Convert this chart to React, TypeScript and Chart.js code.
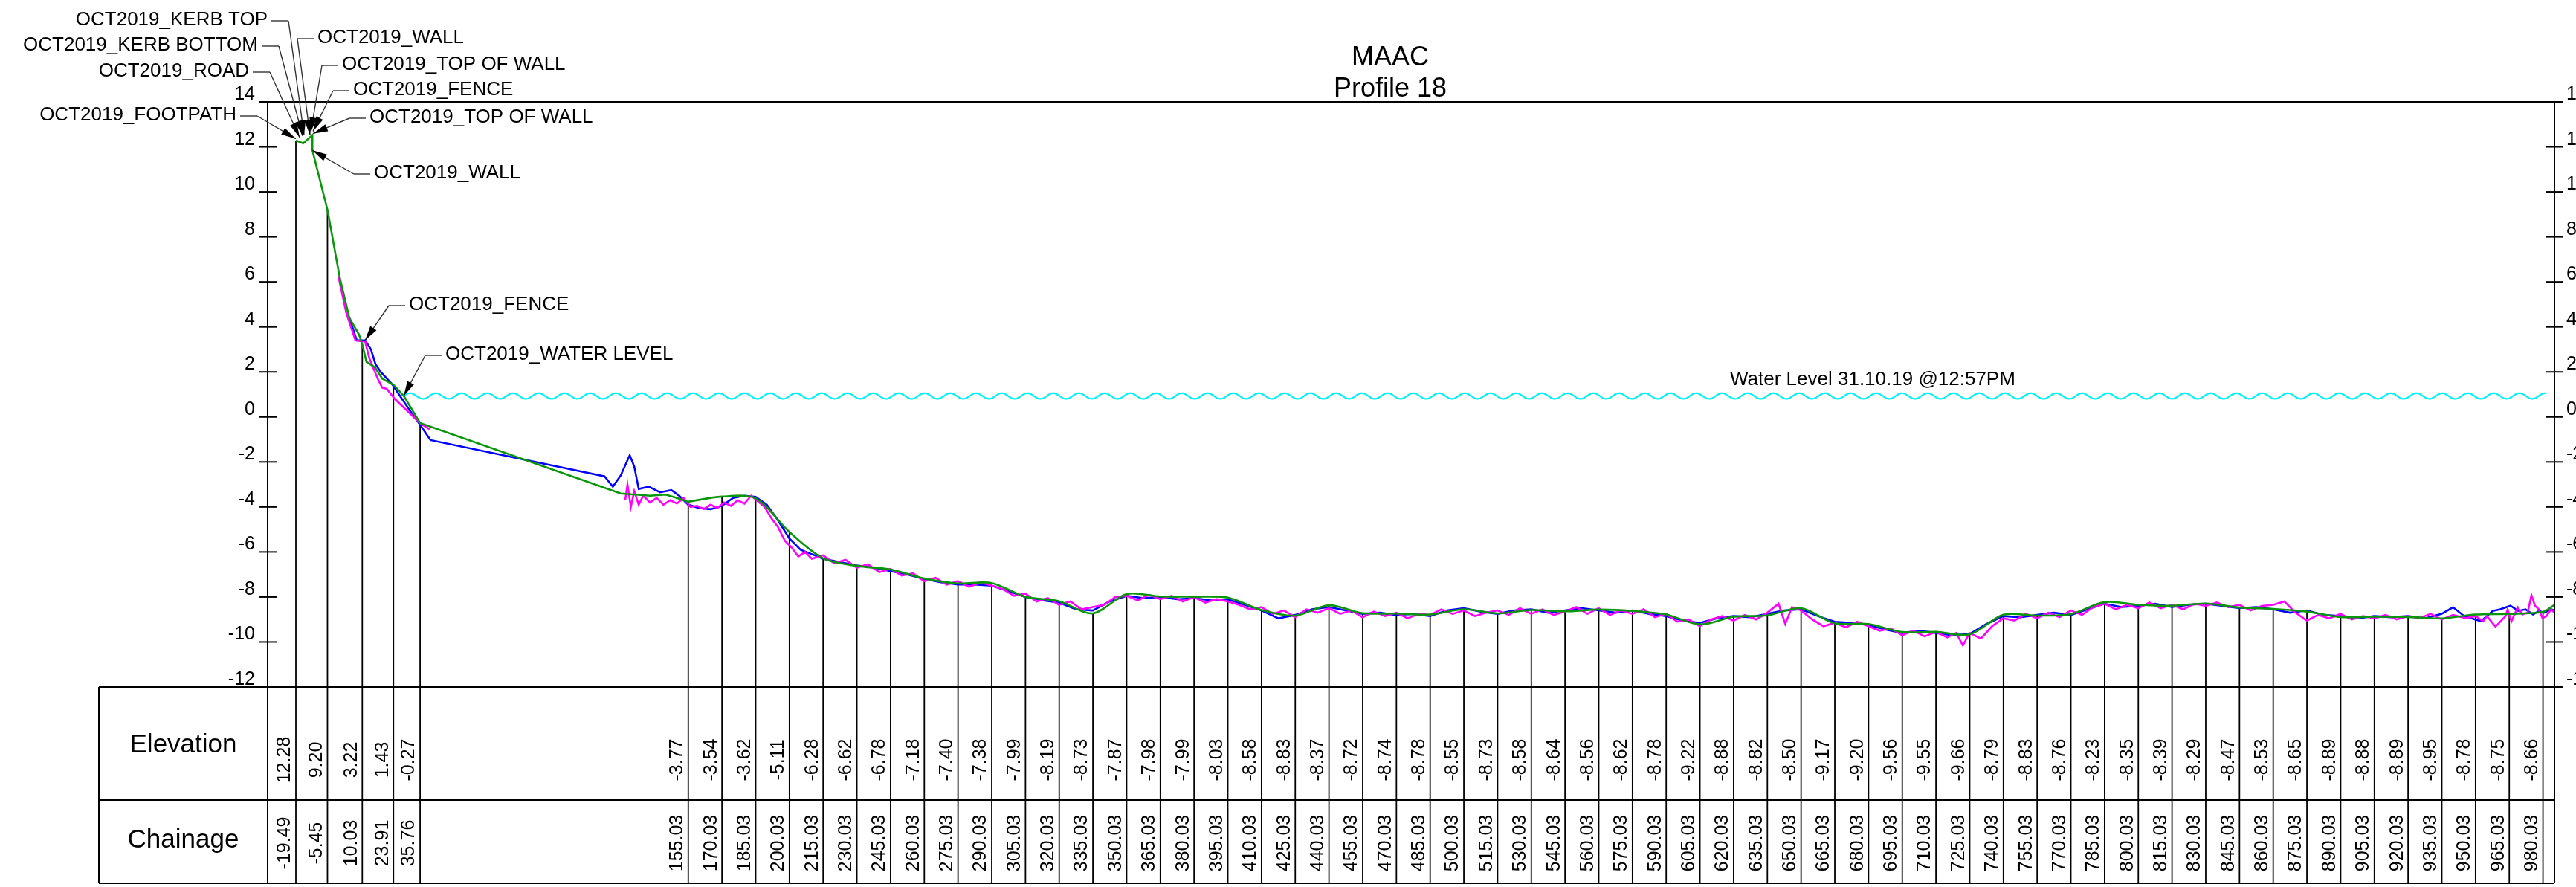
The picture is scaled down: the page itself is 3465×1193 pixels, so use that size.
import React, { useEffect, useRef } from "react";
import { Chart, registerables } from "chart.js";

Chart.register(...registerables);

// ---------------- DATA ----------------
const titleLines = ["MAAC", "Profile 18"];

const yTicks = [14, 12, 10, 8, 6, 4, 2, 0, -2, -4, -6, -8, -10, -12];

const tableChainage = [
  -19.49, -5.45, 10.03, 23.91, 35.76,
  155.03, 170.03, 185.03, 200.03, 215.03, 230.03, 245.03, 260.03, 275.03, 290.03,
  305.03, 320.03, 335.03, 350.03, 365.03, 380.03, 395.03, 410.03, 425.03, 440.03,
  455.03, 470.03, 485.03, 500.03, 515.03, 530.03, 545.03, 560.03, 575.03, 590.03,
  605.03, 620.03, 635.03, 650.03, 665.03, 680.03, 695.03, 710.03, 725.03, 740.03,
  755.03, 770.03, 785.03, 800.03, 815.03, 830.03, 845.03, 860.03, 875.03, 890.03,
  905.03, 920.03, 935.03, 950.03, 965.03, 980.03,
];
const tableElevation = [
  12.28, 9.2, 3.22, 1.43, -0.27,
  -3.77, -3.54, -3.62, -5.11, -6.28, -6.62, -6.78, -7.18, -7.4, -7.38,
  -7.99, -8.19, -8.73, -7.87, -7.98, -7.99, -8.03, -8.58, -8.83, -8.37,
  -8.72, -8.74, -8.78, -8.55, -8.73, -8.58, -8.64, -8.56, -8.62, -8.78,
  -9.22, -8.88, -8.82, -8.5, -9.17, -9.2, -9.56, -9.55, -9.66, -8.79,
  -8.83, -8.76, -8.23, -8.35, -8.39, -8.29, -8.47, -8.53, -8.65, -8.89,
  -8.88, -8.89, -8.95, -8.78, -8.75, -8.66,
];

// green (OCT2019 section) near-shore part
const greenNearX = [-19.49, -16.2, -12.2, -12.15, -5.45, 0, 4.3, 8.6, 10.03, 11.9, 15.7, 18.9, 23.91, 28.5, 35.76, 125, 138, 145, 150, 155.03];
const greenNearY = [12.28, 12.16, 12.52, 11.85, 9.2, 6.2, 4.4, 3.66, 3.22, 2.45, 2.2, 1.7, 1.43, 0.93, -0.27, -3.4, -3.5, -3.45, -3.6, -3.77];
const greenTailX = [985.13];
const greenTailY = [-8.35];

// blue survey
const blueX = [
  4.3, 7.6, 11.3, 13.9, 15.9, 18.2, 23.3, 31.4, 34.7, 40.4, 117.8, 121.5, 125, 129, 131, 133, 137.5, 142.5, 147.5, 151,
  155, 160, 165, 170, 175, 180, 185, 190, 195, 200, 205, 210, 215, 222.5, 230, 237.5, 245, 252.5, 260, 267.5,
  275, 282.5, 290, 297.5, 305, 312.5, 320, 327.5, 335, 342.5, 350, 357.5, 365, 372.5, 380, 387.5, 395, 402.5, 410, 417.5,
  425, 432.5, 440, 447.5, 455, 462.5, 470, 477.5, 485, 492.5, 500, 507.5, 515, 522.5, 530, 537.5, 545, 552.5, 560, 567.5,
  575, 582.5, 590, 597.5, 605, 612.5, 620, 627.5, 635, 642.5, 650, 657.5, 665, 672.5, 680, 687.5, 695, 702.5, 710, 717.5,
  725, 732.5, 740, 747.5, 755, 762.5, 770, 777.5, 785, 792.5, 800, 807.5, 815, 822.5, 830, 837.5, 845, 852.5, 860, 867.5,
  875, 882.5, 890, 897.5, 905, 912.5, 920, 927.5, 935, 940, 945, 952.4, 957.7, 961, 965.6, 969, 972.3, 975.6, 978.3, 980.5,
  983.8, 985.1,
];
const blueY = [
  4.4, 3.4, 3.4, 3.0, 2.35, 2.0, 1.45, 0.26, -0.2, -1.03, -2.64, -3.1, -2.6, -1.7, -2.2, -3.2, -3.1, -3.35, -3.25, -3.5,
  -3.9, -4.05, -4.1, -3.95, -3.6, -3.5, -3.55, -3.9, -4.6, -5.4, -5.9, -6.1, -6.3, -6.45, -6.6, -6.7, -6.85, -7.0, -7.2, -7.35,
  -7.45, -7.45, -7.5, -7.75, -8.0, -8.15, -8.25, -8.55, -8.6, -8.2, -7.95, -8.05, -8.0, -8.1, -8.05, -8.15, -8.1, -8.35, -8.6, -8.95,
  -8.8, -8.55, -8.45, -8.6, -8.75, -8.7, -8.8, -8.75, -8.85, -8.6, -8.5, -8.65, -8.75, -8.6, -8.55, -8.7, -8.6, -8.5, -8.6, -8.7,
  -8.6, -8.75, -8.85, -9.05, -9.15, -8.95, -8.85, -8.9, -8.75, -8.6, -8.55, -8.85, -9.1, -9.15, -9.25, -9.45, -9.6, -9.5, -9.6, -9.7,
  -9.65, -9.2, -8.85, -8.9, -8.8, -8.7, -8.8, -8.55, -8.3, -8.45, -8.4, -8.3, -8.45, -8.35, -8.3, -8.4, -8.5, -8.45, -8.55, -8.7,
  -8.6, -8.8, -8.85, -8.95, -8.85, -8.9, -8.85, -8.95, -8.75, -8.46, -8.85, -9.08, -8.62, -8.55, -8.39, -8.62, -8.55, -8.78, -8.62, -8.7,
  -8.55, -8.6,
];

// magenta survey
const magNearX = [-0.6, 3, 7, 11.3, 13.2, 16.9, 18.9, 20.9, 24.5, 30.8, 36.1, 40];
const magNearY = [6.25, 4.6, 3.4, 3.35, 2.6, 1.7, 1.3, 1.25, 0.8, 0.2, -0.3, -0.55];
const magFarX = [
  127, 128, 129.5, 131, 133, 135, 138, 141, 144, 147, 150, 153, 156, 159, 162, 165, 168, 171, 174, 177,
  180, 183, 186, 189, 192, 195, 198, 201, 204, 207, 210, 215, 220, 225, 230, 235, 240, 245, 250, 255,
  260, 265, 270, 275, 280, 285, 290, 295, 300, 305, 310, 315, 320, 325, 330, 335, 340, 345, 350, 355,
  360, 365, 370, 375, 380, 385, 390, 395, 400, 405, 410, 415, 420, 425, 430, 435, 440, 445, 450, 455,
  460, 465, 470, 475, 480, 485, 490, 495, 500, 505, 510, 515, 520, 525, 530, 535, 540, 545, 550, 555,
  560, 565, 570, 575, 580, 585, 590, 595, 600, 605, 610, 615, 620, 625, 630, 635, 640, 643, 646, 650,
  655, 660, 665, 670, 675, 680, 685, 690, 695, 700, 705, 710, 715, 719, 722, 725, 730, 735, 740, 745,
  750, 755, 760, 765, 770, 775, 780, 785, 790, 795, 800, 805, 810, 815, 820, 825, 830, 835, 840, 845,
  850, 855, 860, 865, 870, 875, 880, 885, 890, 895, 900, 905, 910, 915, 920, 925, 930, 935, 940, 945.7,
  950.1, 953.4, 955.1, 958.9, 963.4, 964.3, 966, 968.8, 970.9, 973.2, 974.9, 976.5, 978.2, 979.8, 981.5, 983.7, 985.1,
];
const magFarY = [
  -3.7, -3.0, -4.0, -3.3, -3.9, -3.5, -3.8, -3.6, -3.9, -3.7, -3.85, -3.6, -4.0, -3.95, -4.1, -3.9, -4.05, -3.8, -3.95, -3.7,
  -3.85, -3.5, -3.75, -4.0, -4.5, -4.9, -5.5, -5.8, -6.2, -6.0, -6.3, -6.15, -6.5, -6.35, -6.7, -6.55, -6.9, -6.75, -7.05, -6.95,
  -7.3, -7.15, -7.45, -7.3, -7.55, -7.35, -7.5, -7.65, -7.95, -7.85, -8.2, -8.05, -8.35, -8.2, -8.55, -8.45, -8.35, -8.0, -7.95, -8.15,
  -7.9, -8.1, -7.95, -8.2, -8.0, -8.25, -8.1, -8.2, -8.35, -8.55, -8.45, -8.75, -8.6, -8.9, -8.55, -8.7, -8.5, -8.75, -8.6, -8.9,
  -8.65, -8.85, -8.7, -8.95, -8.75, -8.8, -8.55, -8.75, -8.6, -8.85, -8.7, -8.6, -8.8, -8.5, -8.75, -8.55, -8.8, -8.65, -8.45, -8.75,
  -8.5, -8.8, -8.6, -8.75, -8.55, -8.9, -8.75, -9.1, -9.0, -9.3, -9.0, -8.85, -9.05, -8.8, -9.0, -8.7, -8.3, -9.2, -8.45, -8.6,
  -9.0, -9.3, -9.15, -9.35, -9.1, -9.3, -9.5, -9.4, -9.7, -9.5, -9.75, -9.55, -9.8, -9.6, -10.15, -9.6, -9.85, -9.3, -8.95, -9.05,
  -8.75, -8.95, -8.7, -8.9, -8.6, -8.8, -8.45, -8.3, -8.55, -8.35, -8.5, -8.25, -8.5, -8.35, -8.55, -8.3, -8.4, -8.25, -8.45, -8.35,
  -8.6, -8.4, -8.35, -8.2, -8.7, -9.05, -8.8, -8.95, -8.75, -9.0, -8.85, -8.95, -8.8, -9.0, -8.85, -8.95, -8.75, -9.0, -8.8, -8.94,
  -8.85, -9.08, -8.85, -9.32, -8.85, -8.55, -9.08, -8.46, -8.78, -8.7, -7.92, -8.39, -8.55, -8.94, -8.85, -8.55, -8.7,
];

// water level
const waterLevel = 0.93;
const waterStartChainage = 28.46;
const waterEndChainage = 981.8;
const waterLabel = "Water Level 31.10.19 @12:57PM";

// callouts
const calloutText = [
  "OCT2019_KERB TOP", "OCT2019_KERB BOTTOM", "OCT2019_ROAD", "OCT2019_FOOTPATH",
  "OCT2019_WALL", "OCT2019_TOP OF WALL", "OCT2019_FENCE", "OCT2019_TOP OF WALL",
  "OCT2019_WALL", "OCT2019_FENCE", "OCT2019_WATER LEVEL",
];
const calloutChainage = [-15.85, -16.51, -17.84, -19.49, -13.2, -12.88, -11.88, -11.88, -12.2, 11.26, 28.46];
const calloutElevation = [12.52, 12.49, 12.42, 12.36, 12.52, 12.65, 12.69, 12.59, 11.85, 3.4, 0.93];

// ---------------- LAYOUT / STYLE ----------------
const W = 3465;
const H = 1193;
const FONT = '"Liberation Sans", Arial, Helvetica, sans-serif';
const X_MIN = -32.06;
const X_MAX = 985.13;
const PAD = { left: 360, right: W - 3436, top: 137, bottom: H - 924 };
const TABLE_LEFT = 133;
const ROW1_H = 152;
const ROW2_H = 112;
const calloutLayout = [
  { side: "left", x: 360, y: 27 },
  { side: "left", x: 347, y: 61 },
  { side: "left", x: 335, y: 96 },
  { side: "left", x: 318, y: 155 },
  { side: "right", x: 427, y: 51 },
  { side: "right", x: 460, y: 87 },
  { side: "right", x: 475, y: 121 },
  { side: "right", x: 497, y: 158 },
  { side: "right", x: 503, y: 233 },
  { side: "right", x: 550, y: 410 },
  { side: "right", x: 599, y: 477 },
];
const TITLE_X = 1870;
const TITLE_Y = [78, 120];
const WATER_LABEL_X = 2327;

const GREEN = "#0a960a";
const BLUE = "#0000ff";
const MAGENTA = "#ff00ff";
const CYAN = "#00f0f8";

function pts(xs: number[], ys: number[]) {
  return xs.map((x, i) => ({ x, y: ys[i] }));
}

function seg(ctx: CanvasRenderingContext2D, x0: number, y0: number, x1: number, y1: number) {
  ctx.beginPath();
  ctx.moveTo(x0, y0);
  ctx.lineTo(x1, y1);
  ctx.stroke();
}

function arrow(ctx: CanvasRenderingContext2D, fx: number, fy: number, tx: number, ty: number) {
  const dx = tx - fx;
  const dy = ty - fy;
  const len = Math.hypot(dx, dy) || 1;
  const ux = dx / len;
  const uy = dy / len;
  const L = 20;
  const hw = 5;
  ctx.beginPath();
  ctx.moveTo(tx, ty);
  ctx.lineTo(tx - ux * L - uy * hw, ty - uy * L + ux * hw);
  ctx.lineTo(tx - ux * L + uy * hw, ty - uy * L - ux * hw);
  ctx.closePath();
  ctx.fill();
}

const decorPlugin = {
  id: "profileDecor",
  beforeDatasetsDraw(chart: any) {
    const { ctx, chartArea: ca, scales } = chart;
    const xs = scales.x;
    const ys = scales.y;
    const tableTop = ys.getPixelForValue(-12);
    const rowDiv = tableTop + ROW1_H;
    const tableBottom = rowDiv + ROW2_H;
    ctx.save();
    ctx.strokeStyle = "#000";
    ctx.fillStyle = "#000";

    // chainage verticals
    ctx.lineWidth = 1.8;
    tableChainage.forEach((c, i) => {
      const px = xs.getPixelForValue(c);
      seg(ctx, px, ys.getPixelForValue(tableElevation[i]), px, tableBottom);
    });

    // axes & frame
    ctx.lineWidth = 2;
    seg(ctx, ca.left, ca.top, ca.left, tableBottom);
    seg(ctx, ca.right, ca.top, ca.right, tableBottom);
    seg(ctx, ca.left - 12, ca.top, ca.right + 11, ca.top);
    seg(ctx, TABLE_LEFT, tableTop, ca.right + 11, tableTop);
    seg(ctx, TABLE_LEFT, rowDiv, ca.right, rowDiv);
    seg(ctx, TABLE_LEFT, tableBottom, ca.right, tableBottom);
    seg(ctx, TABLE_LEFT, tableTop, TABLE_LEFT, tableBottom);

    // ticks
    yTicks.forEach((v) => {
      if (v === 14 || v === -12) return;
      const py = ys.getPixelForValue(v);
      seg(ctx, ca.left - 12, py, ca.left + 12, py);
      seg(ctx, ca.right - 12, py, ca.right + 11, py);
    });

    // tick labels
    ctx.font = `25px ${FONT}`;
    ctx.textBaseline = "alphabetic";
    yTicks.forEach((v) => {
      const py = ys.getPixelForValue(v) - 3;
      ctx.textAlign = "right";
      ctx.fillText(String(v), ca.left - 17, py);
      ctx.textAlign = "left";
      ctx.fillText(String(v), ca.right + 16, py);
    });

    // table headers
    ctx.font = `35px ${FONT}`;
    ctx.textAlign = "center";
    ctx.textBaseline = "middle";
    const hx = (TABLE_LEFT + ca.left) / 2;
    ctx.fillText("Elevation", hx, tableTop + 78);
    ctx.fillText("Chainage", hx, rowDiv + 54);

    // rotated values
    ctx.font = `25px ${FONT}`;
    tableChainage.forEach((c, i) => {
      const px = xs.getPixelForValue(c) - 14.5;
      ctx.save();
      ctx.translate(px, tableTop + 98);
      ctx.rotate(-Math.PI / 2);
      ctx.fillText(tableElevation[i].toFixed(2), 0, 0);
      ctx.restore();
      ctx.save();
      ctx.translate(px, rowDiv + 58);
      ctx.rotate(-Math.PI / 2);
      ctx.fillText(c.toFixed(2), 0, 0);
      ctx.restore();
    });
    ctx.restore();
  },
  afterDatasetsDraw(chart: any) {
    const { ctx, scales } = chart;
    const xs = scales.x;
    const ys = scales.y;
    ctx.save();

    // water wave
    const wy = ys.getPixelForValue(waterLevel);
    const wx0 = xs.getPixelForValue(waterStartChainage);
    const wx1 = xs.getPixelForValue(waterEndChainage);
    ctx.strokeStyle = CYAN;
    ctx.lineWidth = 2.2;
    ctx.beginPath();
    ctx.moveTo(wx0, wy);
    for (let px = wx0; px <= wx1; px += 1) {
      const t = (px - wx0) / 34.6;
      ctx.lineTo(px, wy - 3.8 * Math.sin(2 * Math.PI * t));
    }
    ctx.stroke();

    // water label
    ctx.fillStyle = "#000";
    ctx.font = `26px ${FONT}`;
    ctx.textAlign = "left";
    ctx.textBaseline = "middle";
    ctx.fillText(waterLabel, WATER_LABEL_X, wy - 22);

    // callouts
    calloutText.forEach((txt, i) => {
      const lay = calloutLayout[i];
      const tipX = xs.getPixelForValue(calloutChainage[i]);
      const tipY = ys.getPixelForValue(calloutElevation[i]);
      ctx.font = `26px ${FONT}`;
      ctx.fillStyle = "#000";
      ctx.textBaseline = "middle";
      let elbowX: number;
      ctx.strokeStyle = "#333";
      ctx.lineWidth = 1.4;
      if (lay.side === "left") {
        ctx.textAlign = "right";
        ctx.fillText(txt, lay.x, lay.y);
        elbowX = lay.x + 28;
        seg(ctx, lay.x + 5, lay.y + 1, elbowX, lay.y + 1);
      } else {
        ctx.textAlign = "left";
        ctx.fillText(txt, lay.x, lay.y);
        elbowX = lay.x - 27;
        seg(ctx, elbowX, lay.y + 1, lay.x - 5, lay.y + 1);
      }
      seg(ctx, elbowX, lay.y + 1, tipX, tipY);
      ctx.fillStyle = "#000";
      arrow(ctx, elbowX, lay.y + 1, tipX, tipY);
    });

    // title
    ctx.fillStyle = "#000";
    ctx.font = `36px ${FONT}`;
    ctx.textAlign = "center";
    ctx.textBaseline = "middle";
    titleLines.forEach((t, i) => ctx.fillText(t, TITLE_X, TITLE_Y[i]));
    ctx.restore();
  },
};

export default function App() {
  const ref = useRef<HTMLCanvasElement | null>(null);
  useEffect(() => {
    if (!ref.current) return;
    const greenFarX = tableChainage.slice(5).concat(greenTailX);
    const greenFarY = tableElevation.slice(5).concat(greenTailY);
    const chart = new Chart(ref.current, {
      type: "line",
      data: {
        datasets: [
          { label: "green-near", data: pts(greenNearX, greenNearY), borderColor: GREEN, borderWidth: 2.6, pointRadius: 0, tension: 0 },
          { label: "green-far", data: pts(greenFarX, greenFarY), borderColor: GREEN, borderWidth: 2.6, pointRadius: 0, tension: 0.3 },
          { label: "magenta-near", data: pts(magNearX, magNearY), borderColor: MAGENTA, borderWidth: 2.6, pointRadius: 0, tension: 0 },
          { label: "magenta-far", data: pts(magFarX, magFarY), borderColor: MAGENTA, borderWidth: 2.6, pointRadius: 0, tension: 0 },
          { label: "blue", data: pts(blueX, blueY), borderColor: BLUE, borderWidth: 2.6, pointRadius: 0, tension: 0 },
        ],
      },
      options: {
        animation: false,
        responsive: false,
        maintainAspectRatio: false,
        layout: { padding: PAD },
        plugins: { legend: { display: false }, tooltip: { enabled: false }, title: { display: false } },
        scales: {
          x: { type: "linear", min: X_MIN, max: X_MAX, display: false },
          y: { type: "linear", min: -12, max: 14, display: false },
        },
        events: [],
      },
      plugins: [decorPlugin],
    });
    return () => chart.destroy();
  }, []);
  return (
    <div style={{ position: "fixed", left: 0, top: 0, width: W, height: H, background: "#fff", overflow: "hidden" }}>
      <canvas ref={ref} width={W} height={H} style={{ display: "block", width: W, height: H }} />
    </div>
  );
}
